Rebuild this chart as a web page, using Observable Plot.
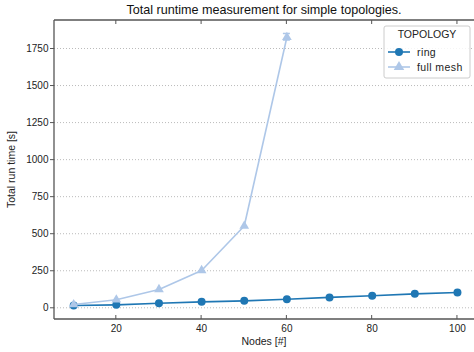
<!DOCTYPE html>
<html>
<head>
<meta charset="utf-8">
<script src="https://cdn.jsdelivr.net/npm/d3@7"></script>
<script src="https://cdn.jsdelivr.net/npm/@observablehq/plot@0.6"></script>
<style>
  html, body { margin: 0; padding: 0; background: #fff; }
  svg { display: block; }
</style>
</head>
<body>
<div id="chart"></div>
<script>
const nodes = [10, 20, 30, 40, 50, 60, 70, 80, 90, 100];
const ringTime = [15, 20, 31, 40, 47, 58, 70, 81, 94, 103];
const meshNodes = [10, 20, 30, 40, 50, 60];
const meshTime = [22, 54, 124, 252, 552, 1826];
const meshErr = [0, 0, 0, 0, 0, 22];
const xTicks = [20, 40, 60, 80, 100];
const yTicks = [0, 250, 500, 750, 1000, 1250, 1500, 1750];
const seriesNames = ["ring", "full mesh"];
const colors = ["#1f77b4", "#aec7e8"];

const ring = nodes.map((n, i) => ({n, t: ringTime[i]}));
const mesh = meshNodes.map((n, i) => ({n, t: meshTime[i], e: meshErr[i]}));
const meshE = mesh.filter(d => d.e > 0);

const font = "'Liberation Sans', Arial, sans-serif";
const W = 474, H = 352;

const plot = Plot.plot({
  width: W, height: H,
  marginLeft: 54, marginRight: 0, marginTop: 20, marginBottom: 33,
  style: {fontFamily: font, fontSize: "10px", color: "#222", background: "#fff"},
  x: {type: "linear", domain: [5.5, 104], label: null},
  y: {type: "linear", domain: [-79, 1939], label: null},
  marks: [
    Plot.gridY(yTicks, {stroke: "#aaa", strokeOpacity: 1, strokeDasharray: "1,2", strokeWidth: 0.8}),
    Plot.axisY(yTicks, {tickSize: 4, tickPadding: 2, label: null, stroke: "#555", tickFormat: d => String(d)}),
    Plot.axisX(xTicks, {tickSize: 0, tickPadding: 5, label: null, tickFormat: d => String(d)}),
    Plot.line(ring, {x: "n", y: "t", stroke: colors[0], strokeWidth: 1.6}),
    Plot.dot(ring, {x: "n", y: "t", fill: colors[0], r: 4, symbol: "circle"}),
    Plot.line(mesh, {x: "n", y: "t", stroke: colors[1], strokeWidth: 1.6}),
    Plot.dot(mesh, {x: "n", y: "t", fill: colors[1], r: 3.6, symbol: "triangle"}),
    Plot.ruleX(meshE, {x: "n", y1: d => d.t - d.e, y2: d => d.t + d.e, stroke: colors[1], strokeWidth: 1.5})
  ]
});

document.getElementById("chart").appendChild(plot);

const svg = d3.select(plot);
const xs = plot.scale("x"), ys = plot.scale("y");
const L = 54, T = 20, B = H - 33, R = W;

// caps for error bars
[1, -1].forEach(s => {
  svg.append("g").selectAll("line").data(meshE).join("line")
    .attr("x1", d => xs.apply(d.n) - 3.5).attr("x2", d => xs.apply(d.n) + 3.5)
    .attr("y1", d => ys.apply(d.t + s * d.e)).attr("y2", d => ys.apply(d.t + s * d.e))
    .attr("stroke", colors[1]).attr("stroke-width", 1.5);
});

// spines
const sp = svg.append("g").attr("stroke", "#555").attr("stroke-width", 1.3);
sp.append("line").attr("x1", L).attr("x2", L).attr("y1", T).attr("y2", B);
sp.append("line").attr("x1", L).attr("x2", R).attr("y1", T).attr("y2", T);
sp.append("line").attr("x1", L).attr("x2", R).attr("y1", B).attr("y2", B);
// inward ticks at bottom and top
xTicks.forEach(v => {
  const x = xs.apply(v);
  sp.append("line").attr("x1", x).attr("x2", x).attr("y1", B).attr("y2", B - 4).attr("stroke-width", 1);
  sp.append("line").attr("x1", x).attr("x2", x).attr("y1", T).attr("y2", T + 4).attr("stroke-width", 1);
});

// title and axis labels
svg.append("text").attr("x", (L + R) / 2).attr("y", 14).attr("text-anchor", "middle")
  .attr("font-size", 12.6).attr("fill", "#111").text("Total runtime measurement for simple topologies.");
svg.append("text").attr("x", (L + R) / 2).attr("y", 345).attr("text-anchor", "middle")
  .attr("font-size", 10.5).attr("fill", "#222").text("Nodes [#]");
svg.append("text").attr("transform", `translate(15,${(T + B) / 2}) rotate(-90)`).attr("text-anchor", "middle")
  .attr("font-size", 10.5).attr("fill", "#222").text("Total run time [s]");

// legend
const lg = svg.append("g").attr("transform", "translate(384,26)");
lg.append("rect").attr("x", 0).attr("y", 0).attr("width", 86).attr("height", 52).attr("rx", 2)
  .attr("fill", "#fff").attr("fill-opacity", 0.85).attr("stroke", "#ccc");
lg.append("text").attr("x", 43).attr("y", 12).attr("text-anchor", "middle").attr("font-size", 10.5)
  .attr("fill", "#222").text("TOPOLOGY");
seriesNames.forEach((name, i) => {
  const y = 26 + i * 15;
  lg.append("line").attr("x1", 4).attr("x2", 26).attr("y1", y).attr("y2", y)
    .attr("stroke", colors[i]).attr("stroke-width", 1.6);
  if (i === 0) lg.append("circle").attr("cx", 15).attr("cy", y).attr("r", 4).attr("fill", colors[i]);
  else lg.append("path").attr("d", d3.symbol(d3.symbolTriangle, 48)()).attr("transform", `translate(15,${y})`).attr("fill", colors[i]);
  lg.append("text").attr("x", 33).attr("y", y + 3.5).attr("text-anchor", "start").attr("font-size", 10.5)
    .attr("letter-spacing", 0.4).attr("fill", "#222").text(name);
});
</script>
</body>
</html>
